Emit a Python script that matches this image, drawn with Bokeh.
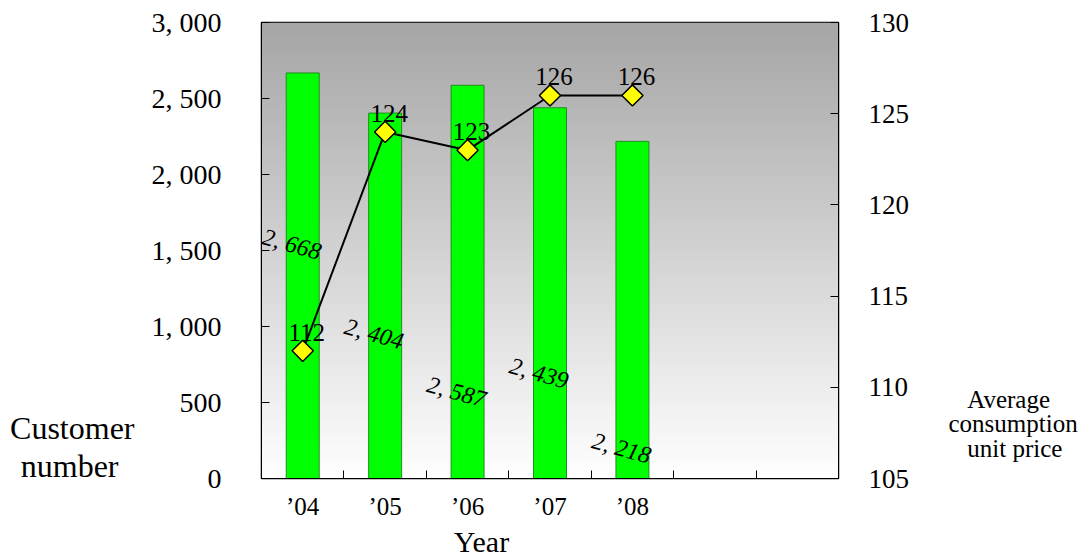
import numpy as np
from bokeh.plotting import figure
from bokeh.models import Range1d, LinearAxis, FixedTicker
from bokeh.core.properties import value
from bokeh.embed import file_html
from bokeh.resources import INLINE

# ---- data ----
years = ["’04", "’05", "’06", "’07", "’08"]
n_slots = 7
customers = [2668, 2404, 2587, 2439, 2218]
unit_price = [112, 124, 123, 126, 126]
customer_labels = ["2, 668", "2, 404", "2, 587", "2, 439", "2, 218"]
price_labels = ["112", "124", "123", "126", "126"]
left_ticks = [0, 500, 1000, 1500, 2000, 2500, 3000]
left_tick_labels = ["0", "500", "1, 000", "1, 500", "2, 000", "2, 500", "3, 000"]
right_ticks = [105, 110, 115, 120, 125, 130]

# axis titles
left_title = ["Customer", "number\u00a0\u00a0"]
right_title = ["\u00a0\u00a0\u00a0Average", "consumption", "\u00a0\u00a0\u00a0unit price"]
x_title = "Year"

# placement of the (displaced) value labels and titles, in customer units / slots
customer_label_y = [1542, 952, 570, 693, 200]
left_title_y = [330, 84]
right_title_y = [521, 365, 197]
x_title_x = 2.669

FONT = "Liberation Serif"

xs = [i + 0.5 for i in range(len(years))]

p = figure(width=1083, height=560, output_backend="svg", toolbar_location=None,
           x_range=Range1d(0, n_slots), y_range=Range1d(0, 3000),
           min_border_left=261, min_border_right=245,
           min_border_top=22, min_border_bottom=75)
p.extra_y_ranges = {"price": Range1d(105, 130)}
p.grid.visible = False
p.background_fill_color = "white"
p.border_fill_color = "white"
p.outline_line_color = "black"
p.outline_line_width = 1.5

# gradient background
N = 256
g = np.linspace(255, 166, N).astype(np.uint8)
img = np.zeros((N, 1), dtype=np.uint32)
view = img.view(dtype=np.uint8).reshape((N, 1, 4))
view[:, 0, 0] = g
view[:, 0, 1] = g
view[:, 0, 2] = g
view[:, 0, 3] = 255
p.image_rgba(image=[img], x=0, y=0, dw=n_slots, dh=3000)

# bars
p.vbar(x=xs, top=customers, width=0.4, fill_color="#00FF00",
       line_color="#228B22", line_width=1)

# line + markers
p.line(xs, unit_price, y_range_name="price", line_color="black", line_width=2)
p.scatter(xs, unit_price, y_range_name="price", marker="square", angle=np.pi / 4,
          size=15, fill_color="#FFFF00", line_color="black", line_width=1.5)

# value labels
p.text(x=xs, y=unit_price, text=price_labels, y_range_name="price",
       text_align="center", text_baseline="bottom", x_offset=4, y_offset=-10,
       text_font=value(FONT), text_font_size="25px", text_color="black")
p.text(x=xs, y=customer_label_y, text=customer_labels, angle=-0.27,
       text_align="center", text_baseline="middle", x_offset=-11,
       text_font=value(FONT), text_font_style="italic",
       text_font_size="24px", text_color="black")


def style_axis(ax, size, standoff, tick_in=8):
    ax.major_tick_in = tick_in
    ax.major_tick_out = 0
    ax.minor_tick_out = 0
    ax.major_label_standoff = standoff
    ax.major_label_text_font = FONT
    ax.major_label_text_font_size = size
    ax.major_label_text_color = "black"
    ax.axis_line_color = "black"


# bottom axis
xa = p.xaxis[0]
xa.ticker = FixedTicker(ticks=xs, minor_ticks=list(range(1, n_slots)))
xa.major_label_overrides = {x: y for x, y in zip(xs, years)}
style_axis(xa, "25px", 14, tick_in=0)
xa.minor_tick_in = 8
xa.minor_tick_line_color = "black"

# left axis
ya = p.yaxis[0]
ya.ticker = FixedTicker(ticks=left_ticks)
ya.major_label_overrides = {t: s for t, s in zip(left_ticks, left_tick_labels)}
style_axis(ya, "28px", 40)
ya.minor_tick_line_color = None

# right axis
ra = LinearAxis(y_range_name="price", ticker=FixedTicker(ticks=right_ticks))
style_axis(ra, "27px", 30)
ra.minor_tick_line_color = None
p.add_layout(ra, "right")

# axis titles drawn as tick labels of outer, line-less axes
lt = LinearAxis(ticker=FixedTicker(ticks=left_title_y),
                major_label_overrides={t: s for t, s in zip(left_title_y, left_title)})
style_axis(lt, "32px", 14, tick_in=0)
lt.axis_line_color = None
lt.major_tick_line_color = None
lt.minor_tick_line_color = None
p.add_layout(lt, "left")

rt = LinearAxis(ticker=FixedTicker(ticks=right_title_y),
                major_label_overrides={t: s for t, s in zip(right_title_y, right_title)})
style_axis(rt, "25px", 36, tick_in=0)
rt.axis_line_color = None
rt.major_tick_line_color = None
rt.minor_tick_line_color = None
p.add_layout(rt, "right")

bt = LinearAxis(ticker=FixedTicker(ticks=[x_title_x]),
                major_label_overrides={x_title_x: x_title})
style_axis(bt, "30px", 2, tick_in=0)
bt.axis_line_color = None
bt.major_tick_line_color = None
bt.minor_tick_line_color = None
p.add_layout(bt, "below")

open("out.html", "w").write(file_html(p, INLINE))
